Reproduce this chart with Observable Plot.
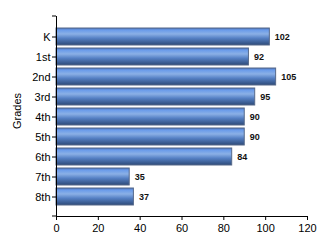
<!DOCTYPE html>
<html>
<head>
<meta charset="utf-8">
<script src="https://cdn.jsdelivr.net/npm/d3@7"></script>
<script src="https://cdn.jsdelivr.net/npm/@observablehq/plot@0.6"></script>
<style>
  html, body { margin: 0; padding: 0; background: #fff; }
  svg { display: block; }
</style>
</head>
<body>
<div id="chart"></div>
<script>
const grades = ["K", "1st", "2nd", "3rd", "4th", "5th", "6th", "7th", "8th"];
const counts = [102, 92, 105, 95, 90, 90, 84, 35, 37];
const xTicks = [0, 20, 40, 60, 80, 100, 120];
const axisTitle = "Grades";

const data = grades.map((g, i) => ({grade: g, value: counts[i]}));

const chart = Plot.plot({
  width: 330,
  height: 250,
  marginLeft: 56,
  marginRight: 23,
  marginTop: 16,
  marginBottom: 34,
  style: {fontFamily: "'Liberation Sans', Arial, sans-serif", fontSize: "11px", color: "#000", background: "#fff"},
  x: {domain: [0, 120], ticks: xTicks},
  y: {domain: grades, paddingInner: 0.15, paddingOuter: 0.575},
  marks: [
    Plot.barX(data, {x: "value", y: "grade", fill: "url(#barGrad)", stroke: "#56698a", strokeWidth: 1}),
    Plot.text(data, {x: "value", y: "grade", text: d => String(d.value), textAnchor: "start", dx: 5, fontWeight: "bold", fontSize: 9, fill: "#111"}),
    Plot.axisX({ticks: xTicks, tickSize: 4, tickPadding: 4, label: null, fontSize: 11, stroke: "#000"}),
    Plot.axisY({tickSize: 4, tickPadding: 2, label: null, fontSize: 11}),
    Plot.frame({anchor: "left", stroke: "#000"}),
    Plot.frame({anchor: "bottom", stroke: "#000"})
  ]
});

// gradient definition for the bars
const svg = d3.select(chart);
const defs = svg.insert("defs", ":first-child");
const grad = defs.append("linearGradient").attr("id", "barGrad").attr("x1", 0).attr("y1", 0).attr("x2", 0).attr("y2", 1);
[
  [0, "#4a72b8"], [0.12, "#6a9bea"], [0.35, "#8bb0e6"], [0.6, "#5580c4"], [1, "#2d4a78"]
].forEach(([o, c]) => grad.append("stop").attr("offset", o).attr("stop-color", c));

// end ticks of the category axis
const ys = chart.scale("y");
const xs = chart.scale("x");
const x0 = xs.apply(0);
const [r0, r1] = ys.range;
svg.append("g").attr("stroke", "#000")
  .selectAll("line").data([r0, r1]).join("line")
  .attr("x1", x0 - 4).attr("x2", x0).attr("y1", d => d).attr("y2", d => d);

// axis title
const cy = (r0 + r1) / 2 - 5;
svg.append("text")
  .attr("transform", `translate(${x0 - 38},${cy}) rotate(-90)`)
  .attr("text-anchor", "middle")
  .attr("dominant-baseline", "middle")
  .attr("font-size", 11)
  .attr("fill", "#000")
  .text(axisTitle);

document.getElementById("chart").appendChild(chart);
</script>
</body>
</html>
